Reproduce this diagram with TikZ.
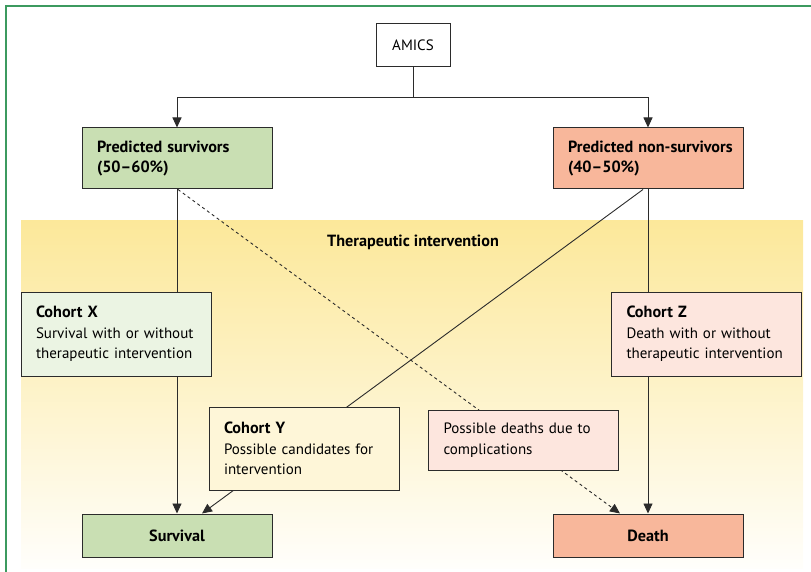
\documentclass[tikz,border=0pt]{standalone}
\usepackage{fontspec}
\setmainfont{PT Sans}[BoldFeatures={Scale=1.08}]
\usetikzlibrary{arrows.meta,positioning,backgrounds,calc}
\definecolor{amLine}{HTML}{2B2B2B}
\definecolor{amFrame}{HTML}{3C9A5F}
\definecolor{amGreen}{HTML}{C9DFB3}
\definecolor{amSalmon}{HTML}{F8B79B}
\definecolor{amPaleGreen}{HTML}{EBF4E3}
\definecolor{amPalePink}{HTML}{FDE6DE}
\definecolor{amPaleYellow}{HTML}{FEF6D8}
\definecolor{amBand}{HTML}{FCE89A}
\tikzset{
  flowbox/.style={draw=amLine, line width=1pt, inner xsep=15pt, inner ysep=0pt,
    text width=160pt, align=left, font=\fontsize{15}{20.5}\selectfont},
  endbox/.style={draw=amLine, line width=1pt, minimum width=190pt, minimum height=43pt,
    font=\fontsize{15}{18}\selectfont\bfseries},
  link/.style={draw=amLine, line width=0.9pt},
  arrowlink/.style={link, -{Triangle[length=10pt,width=9pt]}}
}

\begin{document}
\begin{tikzpicture}[x=1pt, y=-1pt]
  \useasboundingbox (0,0) rectangle (811,572);
  \draw[amFrame, line width=1.2pt] (811,6) -- (6,6) -- (6,572);

  \node[draw=amLine, line width=1pt, fill=white, minimum width=74pt, minimum height=43pt,
    font=\fontsize{15}{18}\selectfont] (amics) at (413,45.5) {AMICS};

  \foreach \name/\x/\y/\h/\col/\lbl in {
    surv/177/158.5/61/amGreen/{\textbf{Predicted survivors}\\\textbf{(50--60\%)}},
    nonsurv/648/158.5/61/amSalmon/{\mbox{\textbf{Predicted non-survivors}}\\\textbf{(40--50\%)}},
    cohx/116/334/84/amPaleGreen/{\textbf{Cohort X}\\Survival with or without\\therapeutic intervention},
    cohz/706.5/334/84/amPalePink/{\textbf{Cohort Z}\\Death with or without\\therapeutic intervention},
    cohy/304/448.5/83/amPaleYellow/{\textbf{Cohort Y}\\Possible candidates for\\intervention},
    compl/523.5/440/60/amPalePink/{Possible deaths due to\\complications}}{
    \node[flowbox, fill=\col, minimum height=\h pt] (\name) at (\x,\y) {\lbl};
  }

  \node[endbox, fill=amGreen] (survival) at (177,535.5) {Survival};
  \node[endbox, fill=amSalmon] (death) at (648,535.5) {Death};

  \node[font=\fontsize{15}{18}\selectfont\bfseries] (therapy) at (413,242) {Therapeutic intervention};

  \begin{scope}[on background layer]
    \shade[top color=amBand, bottom color=amBand!4] (21,221) rectangle (803,568);
    \draw[link] (amics.south) -- ++(0,30) coordinate (split);
    \draw[arrowlink] (split) -| (surv.north);
    \draw[arrowlink] (split) -| (nonsurv.north);
    \draw[link] (surv.south) -- (surv.south |- cohx.north);
    \draw[arrowlink] (surv.south |- cohx.south) -- (survival.north);
    \draw[link] (nonsurv.south) -- (nonsurv.south |- cohz.north);
    \draw[arrowlink] (nonsurv.south |- cohz.south) -- (death.north);
    \draw[arrowlink] ([xshift=-5pt]nonsurv.south) -- ([xshift=25pt]survival.north);
    \draw[arrowlink, dashed] ([xshift=1pt]surv.south) -- ([xshift=-28pt]death.north);
  \end{scope}
\end{tikzpicture}
\end{document}
